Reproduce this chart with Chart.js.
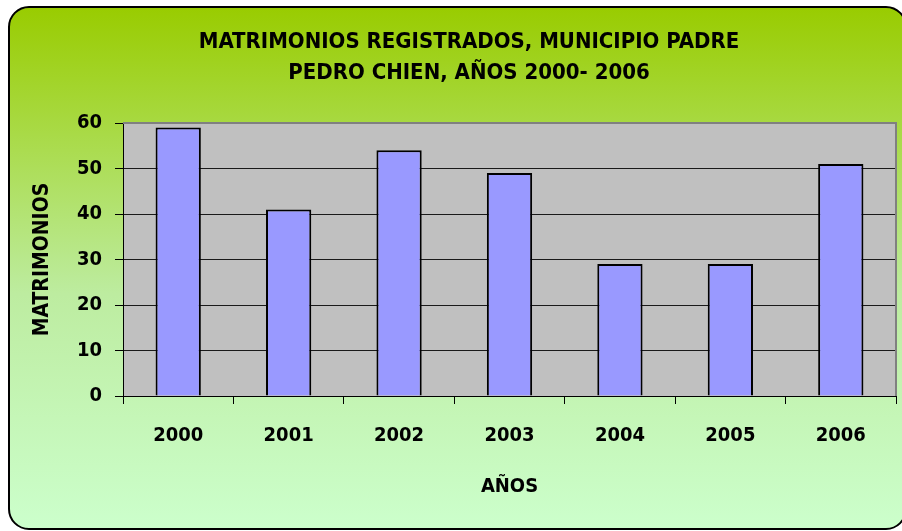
<!DOCTYPE html>
<html>
<head>
<meta charset="utf-8">
<script src="https://cdn.jsdelivr.net/npm/chart.js@4.4.1/dist/chart.umd.min.js"></script>
<style>
  html, body { margin: 0; padding: 0; background: #ffffff; }
  #wrap { width: 902px; height: 531px; position: relative; }
</style>
</head>
<body>
<div id="wrap"><canvas id="chart" width="902" height="531"></canvas></div>
<script>
// Registered marriages per year
const years = ['2000', '2001', '2002', '2003', '2004', '2005', '2006'];
const marriages = [59, 41, 54, 49, 29, 29, 51];
const yTicks = [0, 10, 20, 30, 40, 50, 60];
const titleLines = ['MATRIMONIOS REGISTRADOS, MUNICIPIO PADRE', 'PEDRO CHIEN, AÑOS 2000- 2006'];
const yTitle = 'MATRIMONIOS';
const xTitle = 'AÑOS';

const FONT = '"Liberation Sans Narrow", "Arial Narrow", "DejaVu Sans Condensed", sans-serif';

// Rounded green panel behind everything, plus the grey plot area
const panelPlugin = {
  id: 'panel',
  beforeDraw(chart) {
    const ctx = chart.ctx;
    const x = 9, y = 7, w = 897, h = 522, r = 20;
    ctx.save();
    const g = ctx.createLinearGradient(0, y, 0, y + h);
    g.addColorStop(0, '#99CC00');
    g.addColorStop(0.55, '#BDECA0');
    g.addColorStop(1, '#CCFFCC');
    ctx.beginPath();
    ctx.moveTo(x + r, y);
    ctx.lineTo(x + w - r, y);
    ctx.arcTo(x + w, y, x + w, y + r, r);
    ctx.lineTo(x + w, y + h - r);
    ctx.arcTo(x + w, y + h, x + w - r, y + h, r);
    ctx.lineTo(x + r, y + h);
    ctx.arcTo(x, y + h, x, y + h - r, r);
    ctx.lineTo(x, y + r);
    ctx.arcTo(x, y, x + r, y, r);
    ctx.closePath();
    ctx.fillStyle = g;
    ctx.fill();
    ctx.lineWidth = 2;
    ctx.strokeStyle = '#000000';
    ctx.stroke();

    const a = chart.chartArea;
    ctx.fillStyle = '#C0C0C0';
    ctx.fillRect(a.left, a.top, a.right - a.left, a.bottom - a.top);
    ctx.restore();
  },
  beforeDatasetsDraw(chart) {
    const ctx = chart.ctx;
    const a = chart.chartArea;
    ctx.save();
    ctx.strokeStyle = '#808080';
    ctx.lineWidth = 2;
    ctx.beginPath();
    ctx.moveTo(a.left, a.top);
    ctx.lineTo(a.right, a.top);
    ctx.lineTo(a.right, a.bottom);
    ctx.stroke();
    ctx.restore();
  },
  afterDraw(chart) {
    const ctx = chart.ctx;
    ctx.save();
    ctx.fillStyle = '#000000';
    ctx.font = 'bold 22px ' + FONT;
    ctx.textAlign = 'center';
    ctx.textBaseline = 'middle';
    ctx.fillText(titleLines[0], 469, 42);
    ctx.fillText(titleLines[1], 469, 73);
    ctx.restore();
  }
};

new Chart(document.getElementById('chart'), {
  type: 'bar',
  data: {
    labels: years,
    datasets: [{
      label: yTitle,
      data: marriages,
      backgroundColor: '#9999FF',
      borderColor: '#000000',
      borderWidth: 2,
      barPercentage: 0.41,
      categoryPercentage: 1.0
    }]
  },
  options: {
    responsive: false,
    animation: false,
    layout: { padding: { left: 10, right: 6, top: 123, bottom: 0 } },
    plugins: {
      legend: { display: false },
      tooltip: { enabled: false },
      title: { display: false }
    },
    scales: {
      x: {
        offset: true,
        afterFit(scale) { scale.height = 135; },
        grid: {
          offset: true,
          drawOnChartArea: false,
          tickLength: 8,
          tickColor: '#000000'
        },
        border: { color: '#000000', width: 1 },
        ticks: {
          color: '#000000',
          font: { family: FONT, size: 20, weight: 'bold' },
          padding: 20,
          maxRotation: 0
        },
        title: {
          display: true,
          text: xTitle,
          color: '#000000',
          font: { family: FONT, size: 20, weight: 'bold' },
          padding: { top: 0, bottom: 32 }
        }
      },
      y: {
        min: 0,
        max: 60,
        afterFit(scale) { scale.width = 113; },
        afterBuildTicks(scale) { scale.ticks = yTicks.map(v => ({ value: v })); },
        grid: {
          color: ctx => (ctx.tick && ctx.tick.value === 60) ? '#808080' : '#1a1a1a',
          lineWidth: 1,
          tickLength: 8,
          tickColor: '#000000'
        },
        border: { color: '#000000', width: 1 },
        ticks: {
          color: '#000000',
          font: { family: FONT, size: 20, weight: 'bold' },
          padding: 13
        },
        title: {
          display: true,
          text: yTitle,
          color: '#000000',
          font: { family: FONT, size: 21, weight: 'bold' },
          padding: { top: 20, bottom: 0 }
        }
      }
    }
  },
  plugins: [panelPlugin]
});
</script>
</body>
</html>
